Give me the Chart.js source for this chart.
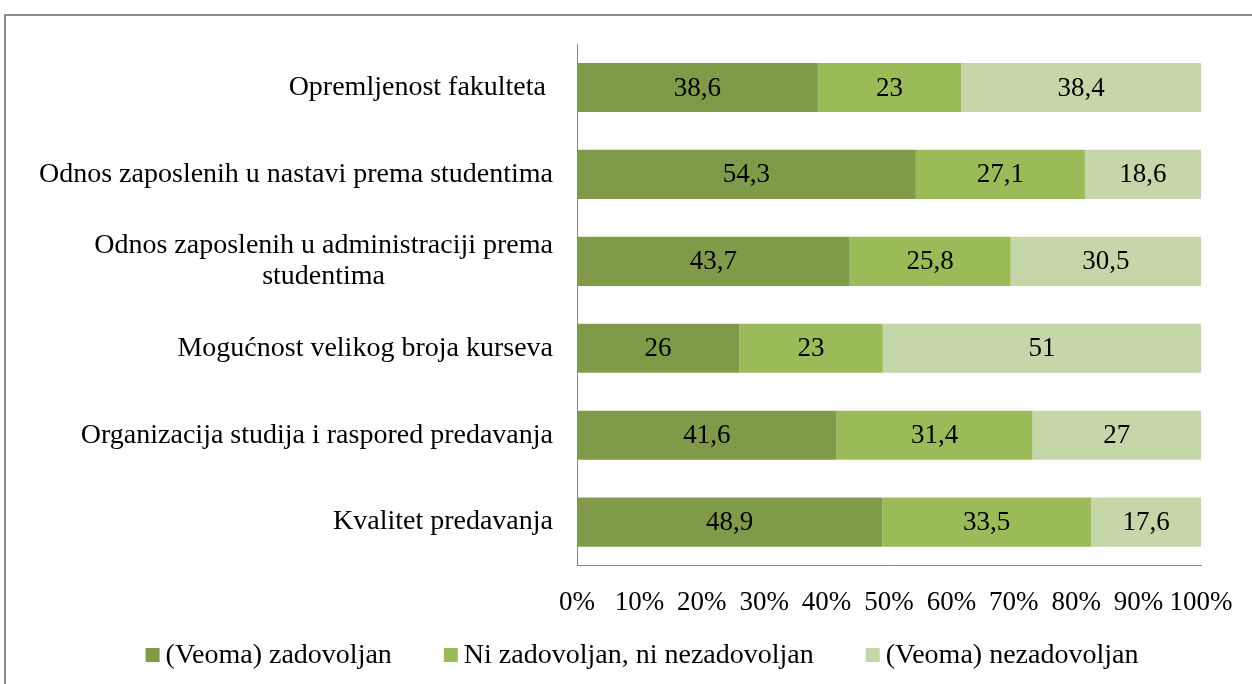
<!DOCTYPE html>
<html>
<head>
<meta charset="utf-8">
<script src="https://cdn.jsdelivr.net/npm/chart.js@4.4.1/dist/chart.umd.min.js"></script>
<style>
html, body { margin: 0; padding: 0; background: #fff; }
#wrap { width: 1252px; height: 684px; }
</style>
</head>
<body>
<div id="wrap"><canvas id="chart"></canvas></div>
<script>
// categories (top to bottom) and the three answer groups, in percent
const categories = [
    'Opremljenost fakulteta ',
    'Odnos zaposlenih u nastavi prema studentima',
    ['Odnos zaposlenih u administraciji prema', 'studentima'],
    'Mogućnost velikog broja kurseva',
    'Organizacija studija i raspored predavanja',
    'Kvalitet predavanja'
];
const seriesNames = ['(Veoma) zadovoljan', 'Ni zadovoljan, ni nezadovoljan', '(Veoma) nezadovoljan'];
const satisfied = [38.6, 54.3, 43.7, 26, 41.6, 48.9];
const neutral = [23, 27.1, 25.8, 23, 31.4, 33.5];
const dissatisfied = [38.4, 18.6, 30.5, 51, 27, 17.6];
const colors = ['#7f9b4a', '#9bbb59', '#c5d6a9'];

const FONT = '"Liberation Serif", "DejaVu Serif", serif';

const extras = {
    id: 'extras',
    beforeDraw(chart) {
        const ctx = chart.ctx;
        ctx.save();
        ctx.fillStyle = '#fff';
        ctx.fillRect(0, 0, chart.width, chart.height);
        // outer frame
        ctx.strokeStyle = '#8c8c8c';
        ctx.lineWidth = 2;
        ctx.strokeRect(5, 15, chart.width + 20, chart.height + 20);
        ctx.restore();
    },
    afterDatasetsDraw(chart) {
        // values in the middle of each segment
        const ctx = chart.ctx;
        ctx.save();
        ctx.fillStyle = '#000';
        ctx.font = '27px ' + FONT;
        ctx.textAlign = 'center';
        ctx.textBaseline = 'middle';
        chart.data.datasets.forEach((ds, di) => {
            chart.getDatasetMeta(di).data.forEach((bar, i) => {
                const txt = String(ds.data[i]).replace('.', ',');
                ctx.fillText(txt, (bar.x + bar.base) / 2, bar.y + 1);
            });
        });
        ctx.restore();
    },
    afterDraw(chart) {
        const ctx = chart.ctx;
        const y = chart.scales.y;
        ctx.save();
        ctx.fillStyle = '#000';
        ctx.font = '28px ' + FONT;
        ctx.textBaseline = 'middle';
        ctx.textAlign = 'center';
        // category labels: block right-aligned, lines centred inside the block
        categories.forEach((lab, i) => {
            const lines = Array.isArray(lab) ? lab : [lab];
            const w = Math.max(...lines.map(l => ctx.measureText(l).width));
            const cx = y.right - 24 - w / 2;
            const cy = y.getPixelForValue(i);
            lines.forEach((l, j) => {
                ctx.fillText(l, cx, cy + (j - (lines.length - 1) / 2) * 31);
            });
        });
        // legend
        const gap = 52;
        const widths = seriesNames.map(n => 14 + 6 + ctx.measureText(n).width);
        const total = widths.reduce((a, b) => a + b, 0) + gap * (seriesNames.length - 1);
        let x = 642 - total / 2;
        const ly = 655;
        ctx.textAlign = 'left';
        seriesNames.forEach((n, i) => {
            ctx.fillStyle = colors[i];
            ctx.fillRect(x, ly - 7, 14, 14);
            ctx.fillStyle = '#000';
            ctx.fillText(n, x + 20, ly + 1);
            x += widths[i] + gap;
        });
        ctx.restore();
    }
};

new Chart(document.getElementById('chart'), {
    type: 'bar',
    data: {
        labels: categories,
        datasets: [
            { label: seriesNames[0], data: satisfied, backgroundColor: colors[0] },
            { label: seriesNames[1], data: neutral, backgroundColor: colors[1] },
            { label: seriesNames[2], data: dissatisfied, backgroundColor: colors[2] }
        ].map(d => Object.assign(d, { barPercentage: 0.565, categoryPercentage: 1 }))
    },
    options: {
        indexAxis: 'y',
        responsive: true,
        maintainAspectRatio: false,
        animation: false,
        layout: { padding: { top: 44, right: 51, bottom: 44, left: 0 } },
        plugins: {
            legend: { display: false },
            tooltip: { enabled: false }
        },
        scales: {
            x: {
                stacked: true,
                min: 0,
                max: 100,
                ticks: {
                    stepSize: 10,
                    autoSkip: false,
                    maxRotation: 0,
                    padding: 21,
                    color: '#000',
                    font: { family: FONT, size: 27 },
                    callback: v => v + '%'
                },
                grid: { display: false, drawTicks: false },
                border: { display: true, color: '#868686', width: 1 },
                afterFit(scale) { scale.paddingRight = 0; }
            },
            y: {
                stacked: true,
                ticks: { display: false },
                grid: { display: false, drawTicks: false },
                border: { display: true, color: '#868686', width: 1 },
                afterFit(scale) { scale.width = 577; }
            }
        }
    },
    plugins: [extras]
});
</script>
</body>
</html>
